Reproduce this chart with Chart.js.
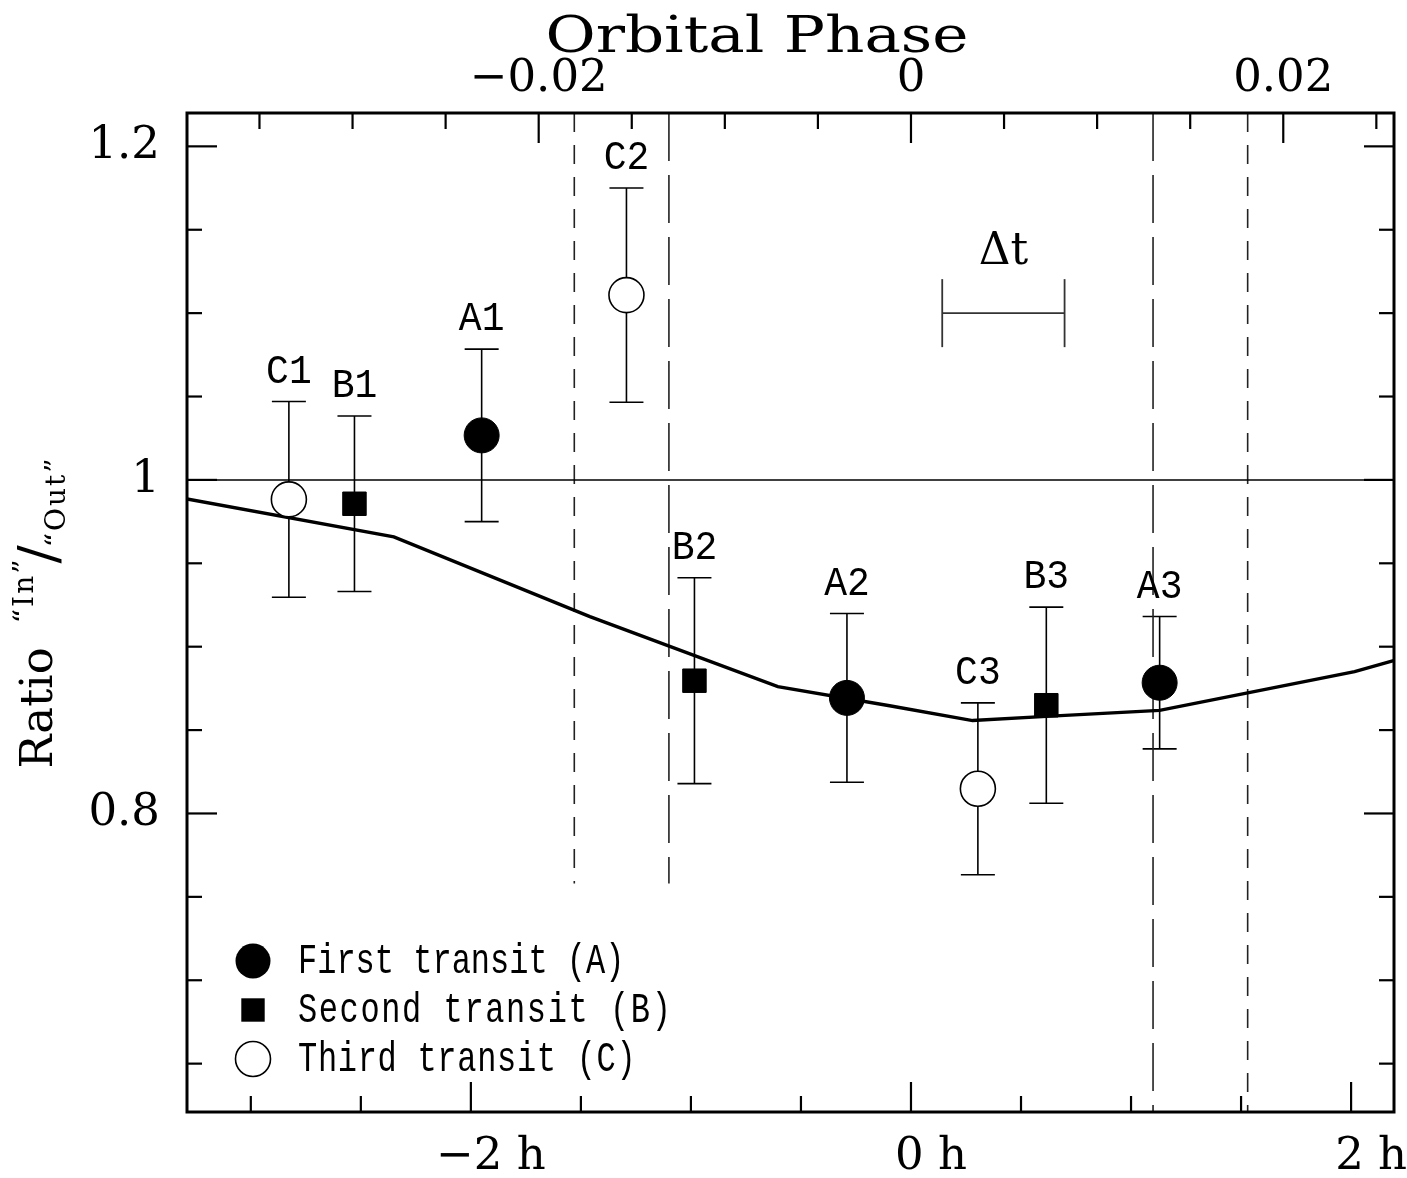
<!DOCTYPE html>
<html>
<head>
<meta charset="utf-8">
<script src="https://cdn.jsdelivr.net/npm/chart.js@4/dist/chart.umd.min.js"></script>
<style>
html,body{margin:0;padding:0;background:#fff;}
#wrap{width:1407px;height:1178px;position:relative;}
</style>
</head>
<body>
<div id="wrap"><canvas id="c" width="1407" height="1178"></canvas></div>
<script>
// ---------------- data ----------------
const PERIOD_HOURS = 84.59;          // orbital period used for the top (phase) axis
const X_MIN = -3.29, X_MAX = 2.195;  // hours
const Y_MIN = 0.621, Y_MAX = 1.22;

const A_names = ['A1', 'A2', 'A3'];
const A_hours = [-1.951, -0.291, 1.130];
const A_ratio = [1.0267, 0.8693, 0.8784];
const A_err   = [0.0517, 0.0506, 0.0397];

const B_names = ['B1', 'B2', 'B3'];
const B_hours = [-2.529, -0.984, 0.615];
const B_ratio = [0.9857, 0.8796, 0.8649];
const B_err   = [0.0526, 0.0617, 0.0588];

const C_names = ['C1', 'C2', 'C3'];
const C_hours = [-2.827, -1.293, 0.304];
const C_ratio = [0.9883, 1.1108, 0.8148];
const C_err   = [0.0587, 0.0642, 0.0515];

const MODEL_hours = [-3.290, -2.350, -1.459, -0.605, -0.097, 0.280, 0.615, 1.130, 2.016, 2.193];
const MODEL_ratio = [0.9886, 0.9658, 0.9180, 0.8760, 0.8646, 0.8557, 0.8582, 0.8618, 0.8850, 0.8916];

const CONTACT_hours  = [-1.53, -1.10, 1.10, 1.53];
const CONTACT_bottom = [0.758, 0.758, Y_MIN, Y_MIN];
const CONTACT_kind   = ['outer', 'inner', 'inner', 'outer'];

const REF_RATIO = 1.0;
const DT_START = 0.142, DT_END = 0.698, DT_RATIO = 1.1;

const X_TICK_LABELS = [-2, 0, 2];
const Y_TICK_LABELS = [0.8, 1, 1.2];
const PHASE_TICK_LABELS = [-0.02, 0, 0.02];
const LEGEND_TEXT = ['First transit (A)', 'Second transit (B)', 'Third transit (C)'];
const X_TITLE_TOP = 'Orbital Phase';

// ---------------- helpers ----------------
const near = (v, arr) => arr.some(t => Math.abs(t - v) < 1e-7);
const isMult = (v, s) => Math.abs(v / s - Math.round(v / s)) < 1e-6;
const fmt = v => (v < -1e-9 ? '\u2212' : '') + String(+Math.abs(v).toFixed(4));
const pts = (xs, ys) => xs.map((x, i) => ({x, y: ys[i]}));

const SERIF = '"DejaVu Serif"';
const MONO = '"Liberation Mono"';

const datasets = [
  {label: 'A', data: pts(A_hours, A_ratio), pointStyle: 'circle', pointRadius: 17.5,
   backgroundColor: '#000', borderColor: '#000', borderWidth: 1, showLine: false},
  {label: 'B', data: pts(B_hours, B_ratio), pointStyle: 'rect', pointRadius: 16.6,
   backgroundColor: '#000', borderColor: '#000', borderWidth: 1, showLine: false},
  {label: 'C', data: pts(C_hours, C_ratio), pointStyle: 'circle', pointRadius: 17.5,
   backgroundColor: '#fff', borderColor: '#000', borderWidth: 1.6, showLine: false},
  {label: 'model', type: 'line', data: pts(MODEL_hours, MODEL_ratio), borderColor: '#000',
   borderWidth: 3.4, pointRadius: 0, tension: 0, fill: false},
  {label: 'ref', type: 'line', data: [{x: X_MIN, y: REF_RATIO}, {x: X_MAX, y: REF_RATIO}],
   borderColor: '#000', borderWidth: 1.5, pointRadius: 0, fill: false}
];
CONTACT_hours.forEach((h, i) => {
  datasets.push({label: 'contact' + i, type: 'line',
    data: [{x: h, y: Y_MAX}, {x: h, y: CONTACT_bottom[i]}],
    borderColor: '#222', borderWidth: 1.6, pointRadius: 0, fill: false,
    borderDash: CONTACT_kind[i] === 'outer' ? [19, 13] : [48, 14]});
});

const SERIES = [
  {h: A_hours, r: A_ratio, e: A_err, n: A_names},
  {h: B_hours, r: B_ratio, e: B_err, n: B_names},
  {h: C_hours, r: C_ratio, e: C_err, n: C_names}
];

function drawMarker(ctx, kind, x, y) {
  ctx.save();
  ctx.fillStyle = '#000'; ctx.strokeStyle = '#000';
  if (kind === 0) { ctx.beginPath(); ctx.arc(x, y, 17.5, 0, Math.PI * 2); ctx.fill(); }
  else if (kind === 1) { ctx.fillRect(x - 11.7, y - 11.7, 23.4, 23.4); }
  else { ctx.lineWidth = 1.6; ctx.fillStyle = '#fff'; ctx.beginPath(); ctx.arc(x, y, 17.5, 0, Math.PI * 2); ctx.fill(); ctx.stroke(); }
  ctx.restore();
}

function line(ctx, x1, y1, x2, y2) { ctx.beginPath(); ctx.moveTo(x1, y1); ctx.lineTo(x2, y2); ctx.stroke(); }

const decor = {
  id: 'decor',
  beforeDatasetsDraw(chart) {
    const ctx = chart.ctx, xs = chart.scales.x, ys = chart.scales.y;
    ctx.save();
    ctx.strokeStyle = '#000'; ctx.lineWidth = 1.6;
    SERIES.forEach(s => s.h.forEach((h, i) => {
      const px = xs.getPixelForValue(h);
      const top = ys.getPixelForValue(s.r[i] + s.e[i]);
      const bot = ys.getPixelForValue(s.r[i] - s.e[i]);
      line(ctx, px, top, px, bot);
      line(ctx, px - 17, top, px + 17, top);
      line(ctx, px - 17, bot, px + 17, bot);
    }));
    // delta-t bar
    const x1 = xs.getPixelForValue(DT_START), x2 = xs.getPixelForValue(DT_END), y = ys.getPixelForValue(DT_RATIO);
    ctx.strokeStyle = '#333'; ctx.lineWidth = 1.8;
    line(ctx, x1, y, x2, y);
    line(ctx, x1, y - 34, x1, y + 34);
    line(ctx, x2, y - 34, x2, y + 34);
    ctx.fillStyle = '#000';
    ctx.font = '44px ' + SERIF; ctx.textAlign = 'center'; ctx.textBaseline = 'alphabetic';
    ctx.fillText('\u0394t', (x1 + x2) / 2, y - 49);
    ctx.restore();
  },
  afterDatasetsDraw(chart) {
    const ctx = chart.ctx, ca = chart.chartArea;
    const xs = chart.scales.x, ys = chart.scales.y, x2s = chart.scales.x2;
    ctx.save();
    ctx.fillStyle = '#000'; ctx.strokeStyle = '#000';
    // point labels
    SERIES.forEach(s => s.h.forEach((h, i) => {
      const px = xs.getPixelForValue(h);
      const top = ys.getPixelForValue(s.r[i] + s.e[i]);
      ctx.save();
      ctx.translate(px, top - 19);
      ctx.scale(1, 1.06);
      ctx.font = '38px ' + MONO; ctx.textAlign = 'center'; ctx.textBaseline = 'alphabetic';
      ctx.fillText(s.n[i], 0, 0);
      ctx.restore();
    }));
    // legend
    LEGEND_TEXT.forEach((t, i) => {
      const ry = ca.bottom - 151 + i * 49;
      drawMarker(ctx, i, ca.left + 66, ry);
      ctx.save();
      ctx.translate(ca.left + 111, ry + 12);
      ctx.scale(1, 1.3);
      ctx.font = '32px ' + MONO; ctx.textAlign = 'left'; ctx.textBaseline = 'alphabetic';
      ctx.letterSpacing = (i === 1 ? 1.6 : (i === 2 ? 0.7 : 0)) + 'px';
      ctx.fillText(t, 0, 0);
      ctx.letterSpacing = '0px';
      ctx.restore();
    });
    // frame
    ctx.lineWidth = 3;
    ctx.strokeRect(ca.left, ca.top, ca.right - ca.left, ca.bottom - ca.top);
    // ticks (inward)
    ctx.lineWidth = 2.2;
    xs.ticks.forEach(t => {
      if (!isMult(t.value, 0.5)) return;
      const len = isMult(t.value, 2) ? 30 : 16;
      const px = xs.getPixelForValue(t.value);
      line(ctx, px, ca.bottom, px, ca.bottom - len);
    });
    x2s.ticks.forEach(t => {
      if (!isMult(t.value, 0.005)) return;
      const len = isMult(t.value, 0.02) ? 30 : 16;
      const px = x2s.getPixelForValue(t.value);
      line(ctx, px, ca.top, px, ca.top + len);
    });
    ys.ticks.forEach(t => {
      if (!isMult(t.value, 0.05)) return;
      const len = isMult(t.value, 0.2) ? 30 : 15;
      const py = ys.getPixelForValue(t.value);
      line(ctx, ca.left, py, ca.left + len, py);
      line(ctx, ca.right, py, ca.right - len, py);
    });
    // top title
    ctx.save();
    ctx.translate(757, 52);
    ctx.scale(1.2, 1);
    ctx.font = '51px ' + SERIF; ctx.textAlign = 'center'; ctx.textBaseline = 'alphabetic';
    ctx.fillText(X_TITLE_TOP, 0, 0);
    ctx.restore();
    // y title
    const parts = [
      {t: 'Ratio', size: 45, dy: 0, ls: 0, gap: 24},
      {t: '\u201CIn\u201D', size: 28, dy: -19, ls: 2, gap: -6},
      {t: '/', size: 54, dy: 5, ls: 0, gap: -2},
      {t: '\u201COut\u201D', size: 28, dy: 13, ls: 2, gap: 0}
    ];
    let total = 0;
    parts.forEach(p => {
      ctx.font = p.size + 'px ' + SERIF; ctx.letterSpacing = p.ls + 'px';
      p.w = ctx.measureText(p.t).width; total += p.w + p.gap;
    });
    ctx.translate(52, (ca.top + ca.bottom) / 2);
    ctx.rotate(-Math.PI / 2);
    let cx = -total / 2;
    ctx.textAlign = 'left';
    parts.forEach(p => {
      ctx.font = p.size + 'px ' + SERIF; ctx.letterSpacing = p.ls + 'px';
      ctx.fillText(p.t, cx, p.dy);
      cx += p.w + p.gap;
    });
    ctx.letterSpacing = '0px';
    ctx.restore();
  }
};

const tickFont = {family: 'DejaVu Serif', size: 45};
const noPad = s => { s.paddingLeft = 0; s.paddingRight = 0; s.paddingTop = 0; s.paddingBottom = 0; };

new Chart(document.getElementById('c'), {
  type: 'scatter',
  data: {datasets},
  options: {
    responsive: false, animation: false, devicePixelRatio: 1,
    layout: {autoPadding: false, padding: {left: 0, right: 13, top: 0, bottom: 0}},
    plugins: {legend: {display: false}, tooltip: {enabled: false}},
    events: [],
    scales: {
      x: {
        type: 'linear', position: 'bottom', min: X_MIN, max: X_MAX,
        afterFit: s => { s.height = 66; noPad(s); },
        grid: {display: false, drawTicks: false}, border: {display: false},
        ticks: {stepSize: 0.5, autoSkip: false, includeBounds: false, maxRotation: 0, minRotation: 0,
          padding: 18, labelOffset: 20, color: '#000', font: tickFont,
          callback: v => near(v, X_TICK_LABELS) ? fmt(v) + ' h' : ''}
      },
      x2: {
        type: 'linear', position: 'top', min: X_MIN / PERIOD_HOURS, max: X_MAX / PERIOD_HOURS,
        afterFit: s => { s.height = 113; noPad(s); },
        grid: {display: false, drawTicks: false}, border: {display: false},
        ticks: {stepSize: 0.005, autoSkip: false, includeBounds: false, maxRotation: 0, minRotation: 0,
          padding: 7, color: '#000', font: tickFont,
          callback: v => near(v, PHASE_TICK_LABELS) ? fmt(v) : ''}
      },
      y: {
        type: 'linear', position: 'left', min: Y_MIN, max: Y_MAX,
        afterFit: s => { s.width = 187; noPad(s); },
        grid: {display: false, drawTicks: false}, border: {display: false},
        ticks: {stepSize: 0.05, autoSkip: false, includeBounds: false, padding: 27, color: '#000', font: tickFont,
          callback: v => near(v, Y_TICK_LABELS) ? fmt(v) : ''}
      }
    }
  },
  plugins: [decor]
});
</script>
</body>
</html>
